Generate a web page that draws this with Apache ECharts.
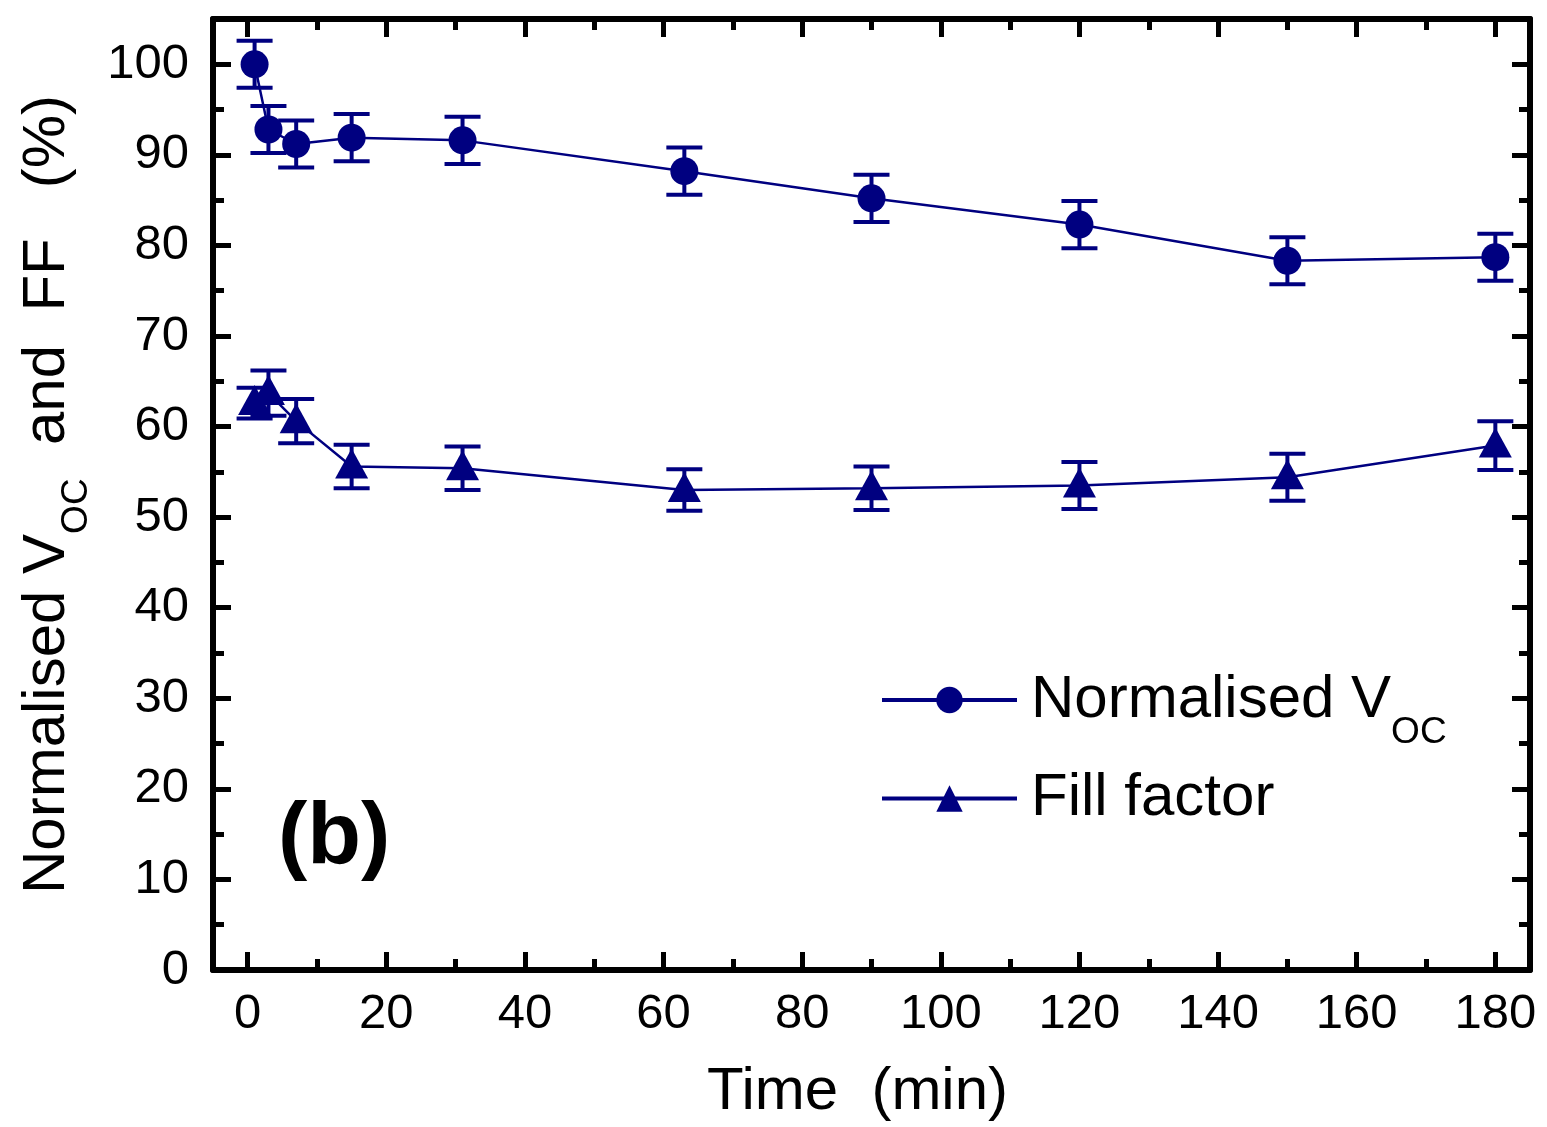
<!DOCTYPE html>
<html>
<head>
<meta charset="utf-8">
<script src="https://cdn.jsdelivr.net/npm/echarts@6/dist/echarts.min.js"></script>
<style>
html,body{margin:0;padding:0;background:#fff;}
#chart{width:1547px;height:1127px;}
</style>
</head>
<body>
<div id="chart"></div>
<script>
// ---- data ----
const time = [1, 3, 7, 15, 31, 63, 90, 120, 150, 180];
const vocValues = [100, 92.8, 91.2, 91.9, 91.6, 88.2, 85.2, 82.3, 78.3, 78.7];
const vocErrors = [2.6, 2.6, 2.6, 2.6, 2.6, 2.6, 2.6, 2.6, 2.6, 2.6];
const ffValues = [62.6, 63.7, 60.6, 55.6, 55.4, 53.0, 53.2, 53.5, 54.4, 57.9];
const ffErrors = [1.7, 2.5, 2.45, 2.4, 2.4, 2.3, 2.4, 2.6, 2.6, 2.7];
const xMajorTicks = [0, 20, 40, 60, 80, 100, 120, 140, 160, 180];
const xMinorTicks = [10, 30, 50, 70, 90, 110, 130, 150, 170];
const yMajorTicks = [0, 10, 20, 30, 40, 50, 60, 70, 80, 90, 100];
const yMinorTicks = [5, 15, 25, 35, 45, 55, 65, 75, 85, 95];
const seriesNames = ['Normalised VOC', 'Fill factor'];

const NAVY = '#000080';
const FONT = '"Liberation Sans", Arial, Helvetica, sans-serif';

const chart = echarts.init(document.getElementById('chart'), null, {renderer: 'canvas'});

function richSub(mainSize, subSize, shift) {
  return {
    n: {fontSize: mainSize, fontFamily: FONT, color: '#000'},
    sub: {fontSize: subSize, fontFamily: FONT, color: '#000', padding: [shift, 0, -shift, 0]}
  };
}

function pairs(vals) { return time.map((t, i) => [t, vals[i]]); }
function bars(vals, errs) { return time.map((t, i) => [t, vals[i] - errs[i], vals[i] + errs[i]]); }

function errorRender(params, api) {
  const x = api.value(0);
  const lo = api.coord([x, api.value(1)]);
  const hi = api.coord([x, api.value(2)]);
  const hw = 18;
  const st = {stroke: NAVY, lineWidth: 4, fill: null};
  return {
    type: 'group',
    children: [
      {type: 'line', shape: {x1: lo[0], y1: lo[1], x2: hi[0], y2: hi[1]}, style: st},
      {type: 'line', shape: {x1: lo[0] - hw, y1: lo[1], x2: lo[0] + hw, y2: lo[1]}, style: st},
      {type: 'line', shape: {x1: hi[0] - hw, y1: hi[1], x2: hi[0] + hw, y2: hi[1]}, style: st}
    ]
  };
}

const XMIN = -5, XMAX = 185, YMIN = 0, YMAX = 105;

function xAx(pos, ticks, len, withLabel, withLine) {
  return {
    type: 'value', position: pos, min: XMIN, max: XMAX,
    axisLine: {show: withLine, onZero: false, lineStyle: {color: '#000', width: 6}},
    axisTick: {show: true, inside: true, length: len, customValues: ticks, lineStyle: {color: '#000', width: 5}},
    axisLabel: withLabel ? {show: true, customValues: ticks, fontSize: 49, fontFamily: FONT, color: '#000', margin: 20} : {show: false},
    splitLine: {show: false}
  };
}
function yAx(pos, ticks, len, withLabel, withLine) {
  return {
    type: 'value', position: pos, min: YMIN, max: YMAX,
    axisLine: {show: withLine, onZero: false, lineStyle: {color: '#000', width: 6}},
    axisTick: {show: true, inside: true, length: len, customValues: ticks, lineStyle: {color: '#000', width: 5}},
    axisLabel: withLabel ? {show: true, customValues: ticks, fontSize: 49, fontFamily: FONT, color: '#000', margin: 24} : {show: false},
    splitLine: {show: false}
  };
}

const xMain = xAx('bottom', xMajorTicks, 18, true, true);
xMain.name = 'Time  (min)';
xMain.nameLocation = 'middle';
xMain.nameGap = 92;
xMain.nameTextStyle = {fontSize: 60, fontFamily: FONT, color: '#000', padding: [0, 28, 0, 0]};

const yMain = yAx('left', yMajorTicks, 18, true, true);
yMain.name = '{n|Normalised V}{sub|OC}{n|  and  FF   (%)}';
yMain.nameLocation = 'middle';
yMain.nameGap = 136;
yMain.nameTextStyle = {fontSize: 60, fontFamily: FONT, color: '#000', rich: richSub(60, 37, 30)};

const option = {
  backgroundColor: '#fff',
  animation: false,
  textStyle: {fontFamily: FONT},
  grid: {left: 213, top: 19, right: 17, bottom: 157, containLabel: false},
  title: {
    text: '(b)', left: 278, top: 795, padding: 0,
    textStyle: {fontSize: 88, fontWeight: 'bold', fontFamily: FONT, color: '#000'}
  },
  legend: {
    data: seriesNames,
    orient: 'vertical',
    left: 880, top: 670, padding: 0,
    itemWidth: 135, itemHeight: 33, itemGap: 17,
    lineStyle: {width: 4},
    formatter: function (name) {
      return name === 'Normalised VOC' ? '{n|Normalised V}{sub|OC}' : '{n|' + name + '}';
    },
    textStyle: {fontSize: 60, fontFamily: FONT, color: '#000', rich: richSub(60, 37, 33), padding: [0, 0, 0, 9]}
  },
  xAxis: [
    xMain,
    xAx('bottom', xMinorTicks, 11, false, false),
    xAx('top', xMajorTicks, 18, false, true),
    xAx('top', xMinorTicks, 11, false, false)
  ],
  yAxis: [
    yMain,
    yAx('left', yMinorTicks, 11, false, false),
    yAx('right', yMajorTicks, 18, false, true),
    yAx('right', yMinorTicks, 11, false, false)
  ],
  series: [
    {
      type: 'custom', name: 'vocErr', xAxisIndex: 0, yAxisIndex: 0,
      renderItem: errorRender, data: bars(vocValues, vocErrors), z: 3,
      encode: {x: 0, y: [1, 2]}
    },
    {
      type: 'custom', name: 'ffErr', xAxisIndex: 0, yAxisIndex: 0,
      renderItem: errorRender, data: bars(ffValues, ffErrors), z: 3,
      encode: {x: 0, y: [1, 2]}
    },
    {
      type: 'line', name: seriesNames[0], xAxisIndex: 0, yAxisIndex: 0,
      data: pairs(vocValues), symbol: 'circle', symbolSize: 28,
      itemStyle: {color: NAVY}, lineStyle: {color: NAVY, width: 2.5}, z: 4
    },
    {
      type: 'line', name: seriesNames[1], xAxisIndex: 0, yAxisIndex: 0,
      data: pairs(ffValues), symbol: 'triangle', symbolSize: [33, 30], symbolOffset: [0, -3],
      itemStyle: {color: NAVY}, lineStyle: {color: NAVY, width: 2.5}, z: 4
    }
  ]
};
chart.setOption(option);
</script>
</body>
</html>
